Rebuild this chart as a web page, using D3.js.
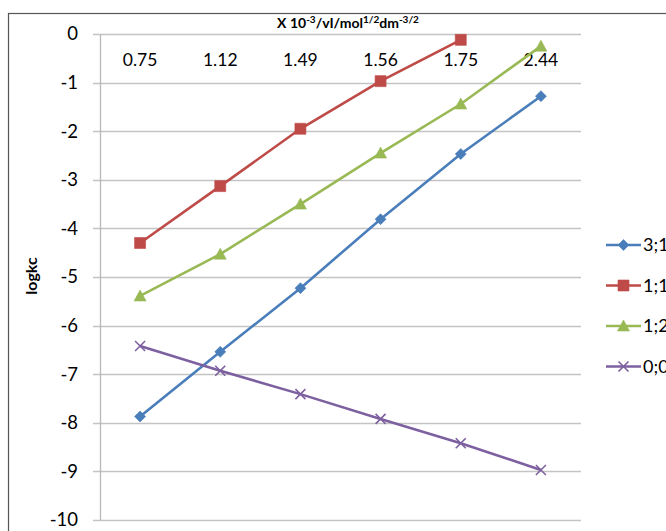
<!DOCTYPE html>
<html><head><meta charset="utf-8">
<script src="https://cdn.jsdelivr.net/npm/d3@7"></script>
<style>body{margin:0;background:#fff}svg{display:block}</style>
</head><body>
<script>
const categories = ["0.75","1.12","1.49","1.56","1.75","2.44"];
const seriesNames = ["3;1","1;1","1;2","0;0"];
const s31 = [-7.87,-6.54,-5.23,-3.81,-2.47,-1.28];
const s11 = [-4.30,-3.13,-1.95,-0.97,-0.12];
const s12 = [-5.39,-4.53,-3.50,-2.45,-1.44,-0.25];
const s00 = [-6.42,-6.93,-7.41,-7.92,-8.42,-8.97];
const yTicks = [0,-1,-2,-3,-4,-5,-6,-7,-8,-9,-10];

const W=666,H=531;
const svg=d3.select("body").append("svg").attr("width",W).attr("height",H);
const font="Lato, 'Open Sans', sans-serif";
svg.append("rect").attr("x",8.5).attr("y",13.5).attr("width",700).attr("height",600)
  .attr("fill","none").attr("stroke","#555").attr("stroke-width",1.2);

const L=100,R=581,T=34,B=520;
const x=d3.scaleBand().domain(categories).range([L,R]);
const y=d3.scaleLinear().domain([-10,0]).range([B,T]);

svg.append("g").selectAll("line").data(yTicks).join("line")
  .attr("x1",L-7).attr("x2",R).attr("y1",d=>Math.round(y(d))+0.5).attr("y2",d=>Math.round(y(d))+0.5)
  .attr("stroke","#c4c4c4").attr("stroke-width",1.3);
svg.append("line").attr("x1",L+0.5).attr("x2",L+0.5).attr("y1",T).attr("y2",B)
  .attr("stroke","#b8b8b8").attr("stroke-width",1.3);

const ya=d3.axisLeft(y).tickValues(yTicks).tickSize(0).tickPadding(22).tickFormat(d=>String(d));
const gy=svg.append("g").attr("transform",`translate(${L},0)`).call(ya);
gy.select(".domain").remove();
gy.selectAll("text").attr("font-family",font).attr("font-size",18.5).attr("fill","#000");

const xa=d3.axisTop(x).tickSize(0).tickPadding(0);
const gx=svg.append("g").attr("transform",`translate(0,${T})`).call(xa);
gx.select(".domain").remove();
gx.selectAll("text").attr("font-family",font).attr("font-size",17.5).attr("fill","#000")
  .attr("dy","0").attr("y",32);

const t=svg.append("text").attr("x",348).attr("y",28).attr("text-anchor","middle")
  .attr("font-family",font).attr("font-size",14).attr("font-weight","bold");
t.append("tspan").text("X 10");
t.append("tspan").text("-3").attr("dy",-5).attr("font-size",10);
t.append("tspan").text("/vI/mol").attr("dy",5);
t.append("tspan").text("1/2").attr("dy",-5).attr("font-size",10);
t.append("tspan").text("dm").attr("dy",5);
t.append("tspan").text("-3/2").attr("dy",-5).attr("font-size",10);

svg.append("text").attr("transform","translate(37,276) rotate(-90)").attr("text-anchor","middle")
  .attr("font-family",font).attr("font-size",16).attr("font-weight","bold").text("logkc");

const colors=["#4a7ebb","#be4b48","#98b954","#7d60a0"];
const data=[s31,s11,s12,s00];
const line=d3.line().x((d,i)=>x(categories[i])+x.bandwidth()/2).y(d=>y(d));

function marker(g,k,cx,cy){
  let d;
  if(k===0) d=`M${cx},${cy-5.5}L${cx+5.5},${cy}L${cx},${cy+5.5}L${cx-5.5},${cy}Z`;
  else if(k===1) d=`M${cx-5.5},${cy-5.5}h11v11h-11Z`;
  else if(k===2) d=`M${cx},${cy-6}L${cx+6},${cy+5}L${cx-6},${cy+5}Z`;
  if(k===3){
    g.append("path").attr("d",`M${cx-5},${cy-5}L${cx+5},${cy+5}M${cx-5},${cy+5}L${cx+5},${cy-5}`)
      .attr("stroke",colors[k]).attr("stroke-width",1.6).attr("fill","none");
  } else {
    g.append("path").attr("d",d).attr("fill",colors[k]).attr("stroke",colors[k]).attr("stroke-width",0.6);
  }
}
data.forEach((vals,k)=>{
  const g=svg.append("g");
  g.append("path").attr("d",line(vals)).attr("fill","none").attr("stroke",colors[k]).attr("stroke-width",2.6);
  vals.forEach((v,i)=>marker(g,k,x(categories[i])+x.bandwidth()/2,y(v)));
});

seriesNames.forEach((n,k)=>{
  const ly=245+k*40.5;
  const g=svg.append("g");
  g.append("line").attr("x1",606).attr("x2",641).attr("y1",ly).attr("y2",ly).attr("stroke",colors[k]).attr("stroke-width",2.6);
  marker(g,k,623.5,ly);
  g.append("text").attr("x",643).attr("y",ly+6).attr("font-family",font).attr("font-size",18).text(n);
});
</script>
</body></html>
